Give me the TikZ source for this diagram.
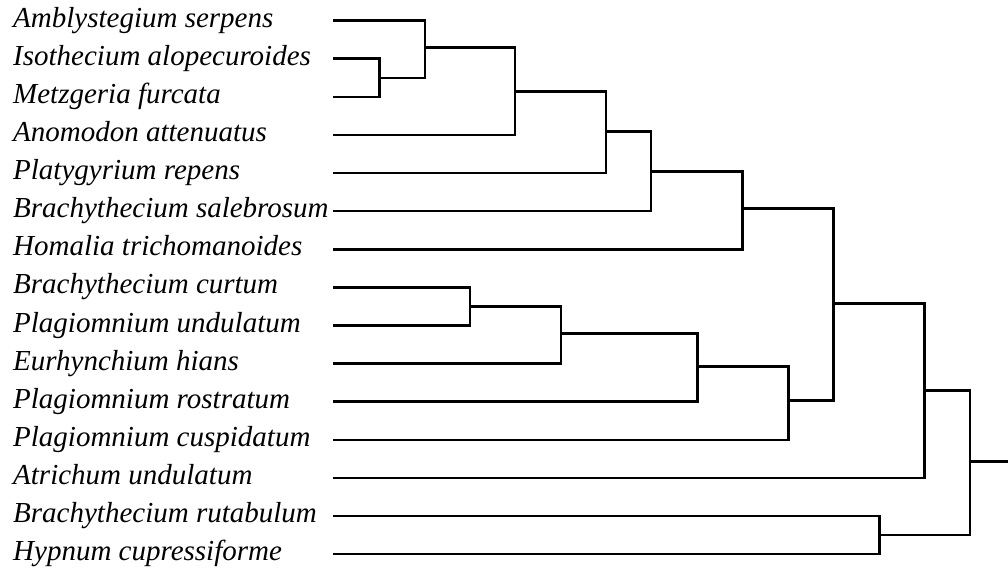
\documentclass[tikz,border=0pt]{standalone}
\usepackage{fontspec}
\setmainfont{Liberation Serif}
\begin{document}
\begin{tikzpicture}[x=1pt,y=-1pt,
  branch/.style={line width=2.6pt, line join=miter},
  taxon/.style={anchor=base west, inner sep=0pt, font=\fontsize{29}{34}\selectfont\itshape}]
\useasboundingbox (0,0) rectangle (1008,569);
% leaf tips
\foreach \n/\i in {a/0,b/1,c/2,d/3,e/4,f/5,g/6,h/7,k/8,l/9,m/10,n/11,o/12,p/13,q/14}{
  \coordinate (t\n) at (333.3,{20.7+38.1*\i});
}
% labels (baseline 6.5 below the branch line)
\node[taxon] (la) at (13,27.2)  {Amblystegium serpens};
\node[taxon] (lb) at (13,65.3)  {Isothecium alopecuroides};
\node[taxon] (lc) at (13,103.4) {Metzgeria furcata};
\node[taxon] (ld) at (13,141.5) {Anomodon attenuatus};
\node[taxon] (le) at (13,179.6) {Platygyrium repens};
\node[taxon] (lf) at (13,217.7) {Brachythecium salebrosum};
\node[taxon] (lg) at (13,255.8) {Homalia trichomanoides};
\node[taxon] (lh) at (13,293.9) {Brachythecium curtum};
\node[taxon] (lk) at (13,332.0) {Plagiomnium undulatum};
\node[taxon] (ll) at (13,370.1) {Eurhynchium hians};
\node[taxon] (lm) at (13,408.2) {Plagiomnium rostratum};
\node[taxon] (ln) at (13,446.3) {Plagiomnium cuspidatum};
\node[taxon] (lo) at (13,484.4) {Atrichum undulatum};
\node[taxon] (lp) at (13,522.5) {Brachythecium rutabulum};
\node[taxon] (lq) at (13,560.6) {Hypnum cupressiforme};
% internal nodes
\coordinate (n1)  at (379.3,77.9);
\coordinate (n2)  at (425.0,47.6);
\coordinate (n3)  at (515.0,91.3);
\coordinate (n4)  at (606.0,131.7);
\coordinate (n5)  at (651.0,171.7);
\coordinate (n6)  at (742.7,208.7);
\coordinate (n7)  at (470.0,306.6);
\coordinate (n8)  at (561.0,333.3);
\coordinate (n9)  at (697.3,366.7);
\coordinate (n10) at (788.3,400.7);
\coordinate (n11) at (833.3,303.3);
\coordinate (n12) at (924.2,390.7);
\coordinate (n13) at (879.3,535.0);
\coordinate (n14) at (970.0,461.7);
\coordinate (root) at (1008,461.7);
% branches
\draw[branch] (tb) -| (n1); \draw[branch] (tc) -| (n1);
\draw[branch] (ta) -| (n2); \draw[branch] (n1) -| (n2);
\draw[branch] (n2) -| (n3); \draw[branch] (td) -| (n3);
\draw[branch] (n3) -| (n4); \draw[branch] (te) -| (n4);
\draw[branch] (n4) -| (n5); \draw[branch] (tf) -| (n5);
\draw[branch] (n5) -| (n6); \draw[branch] (tg) -| (n6);
\draw[branch] (th) -| (n7); \draw[branch] (tk) -| (n7);
\draw[branch] (n7) -| (n8); \draw[branch] (tl) -| (n8);
\draw[branch] (n8) -| (n9); \draw[branch] (tm) -| (n9);
\draw[branch] (n9) -| (n10); \draw[branch] (tn) -| (n10);
\draw[branch] (n6) -| (n11); \draw[branch] (n10) -| (n11);
\draw[branch] (n11) -| (n12); \draw[branch] (to) -| (n12);
\draw[branch] (tp) -| (n13); \draw[branch] (tq) -| (n13);
\draw[branch] (n12) -| (n14); \draw[branch] (n13) -| (n14);
\draw[branch] (n14) -- (root);
\end{tikzpicture}
\end{document}
